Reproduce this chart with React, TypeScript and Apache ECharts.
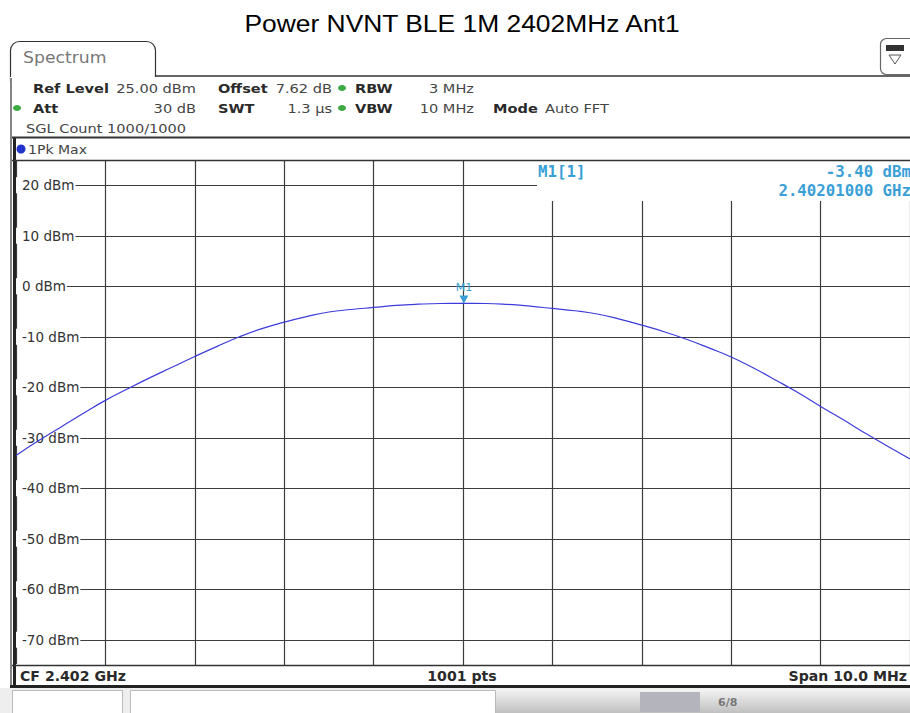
import React, { useEffect, useRef } from 'react';
import * as echarts from 'echarts';

// ---------- data ----------
const chartTitle = 'Power NVNT BLE 1M 2402MHz Ant1';
const freqMHz = [
  2397.0, 2397.25, 2397.5, 2397.75, 2398.0, 2398.25, 2398.5, 2398.75,
  2399.0, 2399.25, 2399.5, 2399.75, 2400.0, 2400.25, 2400.5, 2400.75,
  2401.0, 2401.25, 2401.5, 2401.75, 2402.0, 2402.25, 2402.5, 2402.75,
  2403.0, 2403.25, 2403.5, 2403.75, 2404.0, 2404.25, 2404.5, 2404.75,
  2405.0, 2405.25, 2405.5, 2405.75, 2406.0, 2406.25, 2406.5, 2406.75, 2407.0,
];
const powerDbm = [
  -33.5, -30.6, -27.9, -25.2, -22.6, -20.3, -18.1, -16.0,
  -13.9, -11.9, -10.0, -8.4, -7.1, -6.0, -5.1, -4.6,
  -4.2, -3.8, -3.55, -3.42, -3.4, -3.42, -3.6, -3.95,
  -4.4, -4.85, -5.5, -6.5, -7.7, -9.0, -10.5, -12.2,
  -14.0, -16.2, -18.6, -21.1, -23.8, -26.4, -29.1, -31.7, -34.2,
];
const yTickLabels = [20, 10, 0, -10, -20, -30, -40, -50, -60, -70];
const yMin = -75;
const yMax = 25;
const xMin = 2397;
const xMax = 2407;
const markerFreqMHz = 2402.01;
const markerLevel = -3.4;
const markerName = 'M1';
const markerInfo = ['M1[1]', '-3.40 dBm', '2.40201000 GHz'];
const footerTexts = ['CF 2.402 GHz', '1001 pts', 'Span 10.0 MHz'];

const FONT = '"DejaVu Sans", Verdana, sans-serif';
const MONO = '"DejaVu Sans Mono", monospace';
const COND = '"DejaVu Sans Condensed", sans-serif';
const MARK_BLUE = '#3a9fd6';

type TOpt = { weight?: string; size?: number; family?: string; fill?: string; align?: string; sx?: number };
function txt(text: string, x: number, y: number, o: TOpt = {}) {
  return {
    type: 'text',
    x,
    y,
    z: 10,
    scaleX: o.sx ?? 1.12,
    silent: true,
    style: {
      text,
      fill: o.fill || '#2a2a2a',
      font: `${o.weight || 'normal'} ${o.size || 13}px ${o.family || FONT}`,
      align: o.align || 'left',
      verticalAlign: 'middle',
    },
  };
}
function hline(x1: number, x2: number, y: number, w = 1, c = '#222', z = 9) {
  return { type: 'line', z, silent: true, shape: { x1, y1: y, x2, y2: y }, style: { stroke: c, lineWidth: w } };
}
function vline(x: number, y1: number, y2: number, w = 1, c = '#222', z = 9) {
  return { type: 'line', z, silent: true, shape: { x1: x, y1, x2: x, y2 }, style: { stroke: c, lineWidth: w } };
}
function dot(cx: number, cy: number, color: string, rx = 4, ry = 3) {
  return { type: 'ellipse', z: 10, silent: true, shape: { cx, cy, rx, ry }, style: { fill: color } };
}

export default function App() {
  const ref = useRef<HTMLDivElement>(null);
  useEffect(() => {
    if (!ref.current) return;
    const chart = echarts.init(ref.current, undefined, { renderer: 'svg' });

    const graphics: any[] = [
      // title
      txt(chartTitle, 462, 23, { size: 24, family: '"Liberation Sans", Arial, sans-serif', fill: '#000', align: 'center', sx: 1.1 }),
      // white box hiding grid under marker info
      { type: 'rect', z: 1, silent: true, shape: { x: 537, y: 161, width: 380, height: 40 }, style: { fill: '#fff' } },
      // Spectrum tab
      { type: 'rect', z: 8, silent: true, shape: { x: 10.5, y: 41.5, width: 145, height: 40, r: [9, 9, 0, 0] }, style: { fill: '#fff', stroke: '#333', lineWidth: 1.2 } },
      hline(155, 910, 76, 1.5, '#333'),
      { type: 'rect', z: 8, silent: true, shape: { x: 10, y: 77, width: 900, height: 8 }, style: { fill: '#fff' } },
      txt('Spectrum', 23, 58, { size: 15, fill: '#777', sx: 1.15 }),
      // right icon
      { type: 'rect', z: 8, silent: true, shape: { x: 880.5, y: 38.5, width: 40, height: 36, r: 6 }, style: { fill: '#fff', stroke: '#666', lineWidth: 1.2 } },
      { type: 'rect', z: 10, silent: true, shape: { x: 886, y: 45, width: 18, height: 6 }, style: { fill: '#333' } },
      { type: 'polygon', z: 10, silent: true, shape: { points: [[889, 55], [901, 55], [895, 64]] }, style: { fill: 'none', stroke: '#555', lineWidth: 1 } },
      // frame
      vline(11, 78, 688, 1.2, '#333'),
      vline(14.5, 137, 688, 3, '#222'),
      hline(12, 910, 137.5, 2, '#333'),
      hline(12, 910, 160.5, 1.5, '#333'),
      hline(12, 910, 665.5, 1.5, '#333'),
      hline(10, 910, 686.5, 3, '#222'),
      // header rows
      txt('Ref Level', 33, 88, { weight: 'bold' }),
      txt('25.00 dBm', 196, 88, { align: 'right', fill: '#444' }),
      txt('Offset', 218, 88, { weight: 'bold' }),
      txt('7.62 dB', 332, 88, { align: 'right', fill: '#444' }),
      dot(342, 88, '#3daa45'),
      txt('RBW', 355, 88, { weight: 'bold' }),
      txt('3 MHz', 474, 88, { align: 'right', fill: '#444' }),
      dot(17, 108, '#3daa45'),
      txt('Att', 33, 108, { weight: 'bold' }),
      txt('30 dB', 196, 108, { align: 'right', fill: '#444' }),
      txt('SWT', 218, 108, { weight: 'bold' }),
      txt('1.3 µs', 332, 108, { align: 'right', fill: '#444' }),
      dot(342, 108, '#3daa45'),
      txt('VBW', 355, 108, { weight: 'bold' }),
      txt('10 MHz', 474, 108, { align: 'right', fill: '#444' }),
      txt('Mode', 493, 108, { weight: 'bold' }),
      txt('Auto FFT', 545, 108, { fill: '#444' }),
      txt('SGL Count 1000/1000', 26, 128, { fill: '#444' }),
      { type: 'circle', z: 10, silent: true, shape: { cx: 21, cy: 149, r: 4.5 }, style: { fill: '#2233cc' } },
      txt('1Pk Max', 28, 149, { fill: '#444', sx: 1.08 }),
      // marker info
      txt(markerInfo[0], 538, 172, { weight: 'bold', size: 15, family: MONO, fill: MARK_BLUE, sx: 1.05 }),
      txt(markerInfo[1], 911, 172, { weight: 'bold', size: 15, family: MONO, fill: MARK_BLUE, align: 'right', sx: 1.05 }),
      txt(markerInfo[2], 911, 191, { weight: 'bold', size: 15, family: MONO, fill: MARK_BLUE, align: 'right', sx: 1.05 }),
      // footer
      txt(footerTexts[0], 20, 676, { weight: 'bold', size: 14, family: COND, sx: 1.12 }),
      txt(footerTexts[1], 462, 676, { weight: 'bold', size: 14, family: COND, align: 'center', sx: 1.12 }),
      txt(footerTexts[2], 907, 676, { weight: 'bold', size: 14, family: COND, align: 'right', sx: 1.12 }),
      // status bar
      { type: 'rect', z: 7, silent: true, shape: { x: 0, y: 688, width: 910, height: 25 }, style: { fill: '#eeeeee' } },
      { type: 'rect', z: 8, silent: true, shape: { x: 12.5, y: 690.5, width: 110, height: 24 }, style: { fill: '#fff', stroke: '#bbb' } },
      { type: 'rect', z: 8, silent: true, shape: { x: 130.5, y: 690.5, width: 365, height: 24 }, style: { fill: '#fff', stroke: '#bbb' } },
      {
        type: 'rect', z: 8, silent: true, shape: { x: 496, y: 689, width: 414, height: 24 },
        style: { fill: new echarts.graphic.LinearGradient(0, 0, 0, 1, [{ offset: 0, color: '#f4f4f4' }, { offset: 1, color: '#c0c0c0' }]) },
      },
      { type: 'rect', z: 9, silent: true, shape: { x: 640, y: 692, width: 60, height: 20 }, style: { fill: '#b4b4bc' } },
      txt('6/8', 718, 702, { size: 11, fill: '#777', weight: 'bold', sx: 1 }),
    ];

    chart.setOption({
      animation: false,
      backgroundColor: '#fff',
      grid: { left: 16, top: 160, width: 898, height: 505, show: false },
      xAxis: {
        type: 'value',
        min: xMin,
        max: xMax,
        interval: 1,
        axisLine: { show: false },
        axisTick: { show: false },
        axisLabel: { show: false },
        splitLine: { show: true, lineStyle: { color: '#3c3c3c', width: 1.2 } },
      },
      yAxis: {
        type: 'value',
        min: yMin,
        max: yMax,
        splitNumber: 10,
        axisLine: { show: false },
        axisTick: { show: false },
        axisLabel: {
          inside: true,
          margin: 0,
          color: '#333',
          fontFamily: FONT,
          fontSize: 13.5,
          backgroundColor: '#fff',
          padding: [1, 1, 1, 6],
          formatter: (v: number) => (yTickLabels.includes(v) ? `${v} dBm` : ''),
        },
        splitLine: { show: true, lineStyle: { color: '#3c3c3c', width: 1.2 } },
      },
      graphic: { elements: graphics },
      series: [
        {
          type: 'line',
          z: 3,
          data: freqMHz.map((f, i) => [f, powerDbm[i]]),
          showSymbol: false,
          smooth: 0.5,
          lineStyle: { color: '#3c3cdc', width: 1.2 },
          markPoint: {
            silent: true,
            data: [
              {
                coord: [markerFreqMHz, markerLevel],
                symbol: 'triangle',
                symbolRotate: 180,
                symbolSize: [9, 8],
                symbolOffset: [0, -4],
                itemStyle: { color: MARK_BLUE },
                label: { show: true, formatter: markerName, position: 'top', distance: 2, color: MARK_BLUE, fontSize: 11, fontFamily: FONT },
              },
            ],
          },
        },
      ],
    });
    return () => chart.dispose();
  }, []);
  return <div ref={ref} style={{ position: 'fixed', left: 0, top: 0, width: 910, height: 713 }} />;
}
